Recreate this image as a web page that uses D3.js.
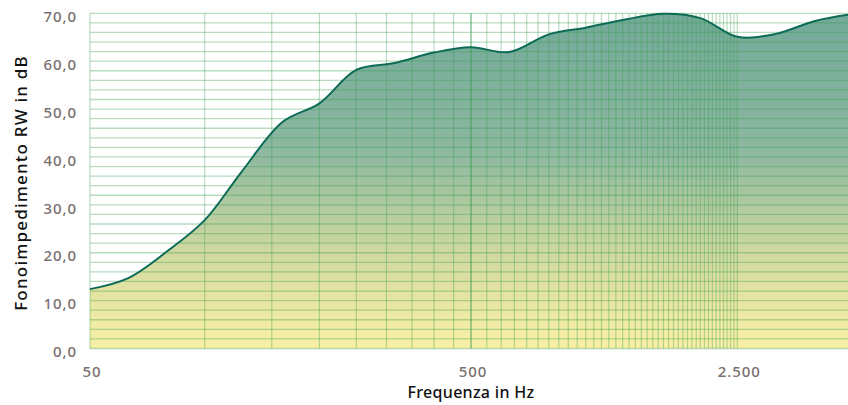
<!DOCTYPE html>
<html>
<head>
<meta charset="utf-8">
<script src="https://cdn.jsdelivr.net/npm/d3@7"></script>
<style>
  html, body { margin: 0; padding: 0; background: #fff; }
  svg { display: block; }
</style>
</head>
<body>
<svg id="chart" width="848" height="405"></svg>
<script>

//^^^^^^^^^^^^^^^^^^^^^^^^^^^^^^^^^^^^^^^^^^^^^^^^^^^^^^^^^^^^^^^^^^^^^^^^^^^^^^
// Data: third octave bands and sound reduction values
//------------------------------------------------------------------------------
var frequencies = [50, 63, 80, 100, 125, 160, 200, 250, 315, 400, 500, 630, 800, 1000, 1250, 1600, 2000, 2500, 3150, 4000, 5000]
var rw = [12.4, 14.7, 20.4, 26.8, 36.9, 47.3, 51.2, 58.2, 59.6, 61.8, 62.9, 61.9, 65.6, 67.0, 68.6, 69.9, 69.0, 65.1, 65.7, 68.4, 69.8]

var yTicks = [0, 10, 20, 30, 40, 50, 60, 70]
var xTicks = [50, 500, 2500]
var xTickLabels = ["50", "500", "2.500"]

// grid: every 2 dB, every 50 Hz up to 2500
var yGrid = d3.range(0, 71, 2)
var xGrid = d3.range(50, 2501, 50)
var xMajor = [500]

//^^^^^^^^^^^^^^^^^^^^^^^^^^^^^^^^^^^^^^^^^^^^^^^^^^^^^^^^^^^^^^^^^^^^^^^^^^^^^^
// Setup
//------------------------------------------------------------------------------
var width = 848,
    height = 405,
    plotLeft = 90,
    plotTop = 13.3,
    plotBottom = 348.5,
    font = "'Noto Sans', sans-serif"

var svg = d3.select("#chart")

var x = d3.scaleLog()
  .domain([50, 5000])
  .range([plotLeft, plotLeft + 381 * 2])

var y = d3.scaleLinear()
  .domain([0, 70])
  .range([plotBottom, plotTop])

var defs = svg.append("defs")

var grad = defs.append("linearGradient")
  .attr("id", "fillGrad")
  .attr("gradientUnits", "userSpaceOnUse")
  .attr("x1", 0).attr("x2", 0)
  .attr("y1", plotTop).attr("y2", plotBottom)

var stops = [
  [0, "#72a999"],
  [0.41, "#8db8a1"],
  [0.56, "#adc8a0"],
  [0.70, "#cdd7a0"],
  [0.85, "#e7e5a3"],
  [1, "#f9f0a6"]
]
stops.forEach(function(s){
  grad.append("stop").attr("offset", s[0]).attr("stop-color", s[1])
})

defs.append("clipPath").attr("id", "plotClip")
  .append("rect")
    .attr("x", plotLeft - 1).attr("y", plotTop - 2)
    .attr("width", width - plotLeft + 1).attr("height", plotBottom - plotTop + 4)

//^^^^^^^^^^^^^^^^^^^^^^^^^^^^^^^^^^^^^^^^^^^^^^^^^^^^^^^^^^^^^^^^^^^^^^^^^^^^^^
// Area + line
//------------------------------------------------------------------------------
var pts = frequencies.map(function(f, i){ return [f, rw[i]] })

var curve = d3.curveCatmullRom.alpha(0.5)

var area = d3.area()
  .x(function(d){ return x(d[0]) })
  .y0(y(0))
  .y1(function(d){ return y(d[1]) })
  .curve(curve)

var line = d3.line()
  .x(function(d){ return x(d[0]) })
  .y(function(d){ return y(d[1]) })
  .curve(curve)

var plot = svg.append("g").attr("clip-path", "url(#plotClip)")

plot.append("path")
  .datum(pts)
  .attr("d", area)
  .attr("fill", "url(#fillGrad)")

//^^^^^^^^^^^^^^^^^^^^^^^^^^^^^^^^^^^^^^^^^^^^^^^^^^^^^^^^^^^^^^^^^^^^^^^^^^^^^^
// Grid (drawn over the fill, semi transparent)
//------------------------------------------------------------------------------
var grid = plot.append("g")
  .attr("stroke", "#3a9e4f")

grid.selectAll("line.h")
  .data(yGrid)
  .enter().append("line")
    .attr("class", "h")
    .attr("x1", plotLeft).attr("x2", width)
    .attr("y1", function(d){ return y(d) })
    .attr("y2", function(d){ return y(d) })
    .attr("stroke-width", 1.3)
    .attr("stroke-opacity", 0.36)

grid.selectAll("line.v")
  .data(xGrid)
  .enter().append("line")
    .attr("class", "v")
    .attr("x1", function(d){ return x(d) })
    .attr("x2", function(d){ return x(d) })
    .attr("y1", plotTop).attr("y2", plotBottom)
    .attr("stroke-width", function(d){ return xMajor.indexOf(d) >= 0 ? 1.8 : 1.2 })
    .attr("stroke-opacity", function(d){ return xMajor.indexOf(d) >= 0 ? 0.5 : 0.36 })

plot.append("path")
  .datum(pts)
  .attr("d", line)
  .attr("fill", "none")
  .attr("stroke", "#0d6b55")
  .attr("stroke-width", 2)

//^^^^^^^^^^^^^^^^^^^^^^^^^^^^^^^^^^^^^^^^^^^^^^^^^^^^^^^^^^^^^^^^^^^^^^^^^^^^^^
// Axes
//------------------------------------------------------------------------------
var yAxis = d3.axisLeft(y)
  .tickValues(yTicks)
  .tickSize(0)
  .tickPadding(0)
  .tickFormat(function(d){ return d3.format(".1f")(d).replace(".", ",") })

svg.append("g")
  .attr("transform", "translate(" + 77 + ",0)")
  .call(yAxis)
  .call(function(g){
    g.select(".domain").remove()
    g.selectAll("text")
      .attr("dy", "0.55em")
      .attr("fill", "#7a6f70")
      .attr("font-family", font)
      .attr("font-weight", 500)
      .attr("font-size", 15)
      .attr("letter-spacing", 0.9)
  })

var xAxis = d3.axisBottom(x)
  .tickValues(xTicks)
  .tickSize(0)
  .tickPadding(0)
  .tickFormat(function(d, i){ return xTickLabels[i] })

svg.append("g")
  .attr("transform", "translate(0," + 363 + ")")
  .call(xAxis)
  .call(function(g){
    g.select(".domain").remove()
    g.selectAll("text")
      .attr("dy", "0.9em")
      .attr("dx", 1.5)
      .attr("fill", "#7a6f70")
      .attr("font-family", font)
      .attr("font-weight", 500)
      .attr("font-size", 15)
      .attr("letter-spacing", 0.9)
  })

svg.append("text")
  .attr("x", 471)
  .attr("y", 398)
  .attr("text-anchor", "middle")
  .attr("font-family", font)
  .attr("font-weight", 500)
  .attr("font-size", 16)
  .attr("letter-spacing", 0.3)
  .attr("fill", "#111")
  .text("Frequenza in Hz")

svg.append("text")
  .attr("transform", "translate(27," + 183 + ") rotate(-90)")
  .attr("text-anchor", "middle")
  .attr("font-family", font)
  .attr("font-weight", 500)
  .attr("font-size", 17)
  .attr("letter-spacing", 1.2)
  .attr("fill", "#111")
  .text("Fonoimpedimento RW in dB")

</script>
</body>
</html>
